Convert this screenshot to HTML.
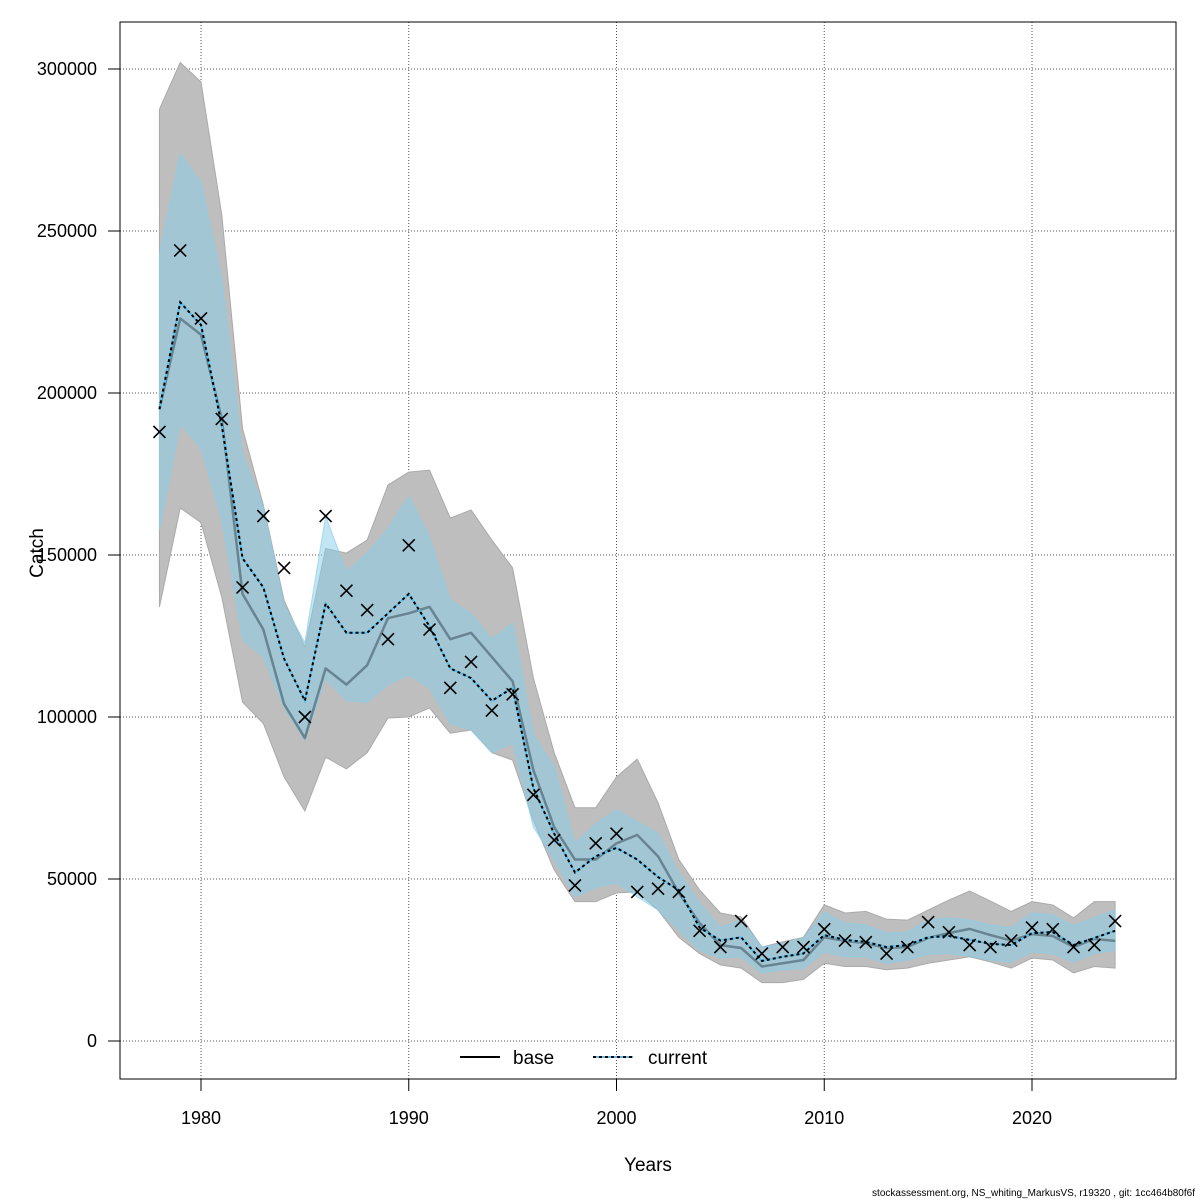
<!DOCTYPE html>
<html><head><meta charset="utf-8"><style>
html,body{margin:0;padding:0;background:#fff}
svg{display:block;font-family:"Liberation Sans",Arial,sans-serif}
</style></head><body>
<svg id="chart" width="1200" height="1200" viewBox="0 0 1200 1200"></svg>
<script>
const years=[];for(let y=1978;y<=2024;y++)years.push(y);
const observed=[188,244,223,192,140,162,146,100,162,139,133,124,153,127,109,117,102,107,76,62,48,61,64,46,47,46,34,29,37,27,29,29,34.5,31,30.5,27,29,36.7,33.6,29.6,29,31,35,34.5,29,29.6,37];
const baseEst=[195,223,218,192,138,127,104,93.5,115,110,116,130.5,132,134,124,126,118.5,111,83.6,66,56,56,61,63.6,57,45.7,36.4,29.6,28.7,23,24,25,32,30.9,30.2,28.7,29,31.8,33.3,34.6,32.7,31,33,32.4,29,31.5,30.9];
const currentEst=[195,228,221,190,149,140,118,105,135,126,126,132,138,128,115,112,105,109,78,64,52,57,59.6,56,50.6,46.6,35,31,32,24.7,26,27,32.7,31.2,30.6,29,29.6,32,32.4,31.2,30,29.6,33.3,33.6,29.6,31.8,34];
const baseHi=[287.6,302,296,255,189,165.4,136,121.6,152,150.6,154.6,171.6,175.6,176.2,161.4,163.9,154.6,146,112,89,72,72,81.5,87,73.5,56,46.6,39.5,38.3,29,30.6,32,42,39.5,40,37.6,37.3,40.4,43.5,46.3,43.2,40,43,42,38,43,43];
const baseLo=[134,164.5,160,137,104.6,98,81.5,71,87.6,84,89,99.7,100,102.8,95,96,89,86.7,68,52.8,43,43,45.7,46,40.4,32,27,23.5,22.5,18,18,19,24,23,23,22,22.5,24,25,26,24.4,22.5,25.6,25,21,23,22.5];
const curHi=[242.6,273.8,265,235,181,165,134.6,123,162,144.8,150.6,158,168,155.6,136,132,124,129,94.4,84.6,61,67,71.3,67.6,64,51.8,42.6,35,37.3,29,30,31.8,39.8,36.4,35.8,33.3,33.6,37.3,38,37.3,35.8,34.9,39.5,38.9,35.5,38,40.4];
const curLo=[157.7,190.7,183,161,124,118.5,103,93,112,105,104.6,110,113,109,98,96,89,92,66,56,44.5,47.5,48.8,44.5,40.4,34.3,28,25.6,26,21,22,22.5,27.5,26,26,24,25,26.8,27,26.2,25,24.4,27.5,27,24.4,27,28];
const xTicks=[1980,1990,2000,2010,2020];
const yTicks=[0,50000,100000,150000,200000,250000,300000];

const NS="http://www.w3.org/2000/svg";
const svg=document.getElementById('chart');
const L=120,T=22,R=1176,B=1079;
function xs(yr){return 201+(yr-1980)*(1032-201)/40;}
function ys(v){return 1041-v*(1041-69)/300;}
function el(tag,attrs,parent){const e=document.createElementNS(NS,tag);for(const k in attrs)e.setAttribute(k,attrs[k]);(parent||svg).appendChild(e);return e;}
function band(hi,lo){let p=years.map((y,i)=>xs(y)+','+ys(hi[i]));for(let i=years.length-1;i>=0;i--)p.push(xs(years[i])+','+ys(lo[i]));return p.join(' ');}
function line(arr){return years.map((y,i)=>xs(y)+','+ys(arr[i])).join(' ');}

const grid=el('g',{});


xTicks.forEach(t=>{const g=el('line',{x1:xs(t),x2:xs(t),y1:T,y2:B,stroke:'#555','stroke-width':1,'stroke-dasharray':'1,2'},grid);});
yTicks.forEach(t=>{const g=el('line',{x1:L,x2:R,y1:ys(t/1000),y2:ys(t/1000),stroke:'#555','stroke-width':1,'stroke-dasharray':'1,2'},grid);});

const bb=el('polygon',{points:band(baseHi,baseLo),fill:'#bebebe',stroke:'#aaa','stroke-width':1});


const cb=el('polygon',{points:band(curHi,curLo),fill:'rgba(135,206,235,0.5)',stroke:'rgba(135,206,235,0.7)','stroke-width':1});



const bl=el('polyline',{points:line(baseEst),fill:'none',stroke:'rgba(30,50,60,0.45)','stroke-width':2.5,'stroke-linejoin':'round'});


const cl1=el('polyline',{points:line(currentEst),fill:'none',stroke:'#5bc0eb','stroke-width':2});


const cl=el('polyline',{points:line(currentEst),fill:'none',stroke:'#000','stroke-width':2,'stroke-dasharray':'3,3'});



const og=el('g',{stroke:'#000','stroke-width':1.6});


years.forEach((y,i)=>{const cx=xs(y),cy=ys(observed[i]),s=6;
 const p=el('path',{d:`M${cx-s},${cy-s}L${cx+s},${cy+s}M${cx-s},${cy+s}L${cx+s},${cy-s}`},og);
 
 });

const box=el('rect',{x:L,y:T,width:R-L,height:B-T,fill:'none',stroke:'#000','stroke-width':1});



xTicks.forEach(t=>{const tk=el('line',{x1:xs(t),x2:xs(t),y1:B,y2:B+12,stroke:'#000'});
 const tx=el('text',{x:xs(t),y:1124,'text-anchor':'middle','font-size':18});tx.textContent=t;});
yTicks.forEach(t=>{const tk=el('line',{x1:L-12,x2:L,y1:ys(t/1000),y2:ys(t/1000),stroke:'#000'});
 const tx=el('text',{x:97,y:ys(t/1000)+6,'text-anchor':'end','font-size':18});tx.textContent=t;});

const xt=el('text',{x:648,y:1171,'text-anchor':'middle','font-size':19});xt.textContent='Years';


const yt=el('text',{x:43,y:553,'text-anchor':'middle','font-size':19,transform:'rotate(-90 43 553)'});yt.textContent='Catch';



const lg=el('g',{});


const l1=el('line',{x1:460,x2:500,y1:1057,y2:1057,stroke:'#000','stroke-width':2},lg);


const t1=el('text',{x:513,y:1064,'font-size':19},lg);t1.textContent='base';


const l2a=el('line',{x1:593,x2:633,y1:1057,y2:1057,stroke:'#5bc0eb','stroke-width':2},lg);


const l2=el('line',{x1:593,x2:633,y1:1057,y2:1057,stroke:'#000','stroke-width':2,'stroke-dasharray':'3,3'},lg);


const t2=el('text',{x:648,y:1064,'font-size':19},lg);t2.textContent='current';



const ft=el('text',{x:1195,y:1196,'text-anchor':'end','font-size':10});ft.textContent='stockassessment.org, NS_whiting_MarkusVS, r19320 , git: 1cc464b80f6f';


</script>
</body></html>
